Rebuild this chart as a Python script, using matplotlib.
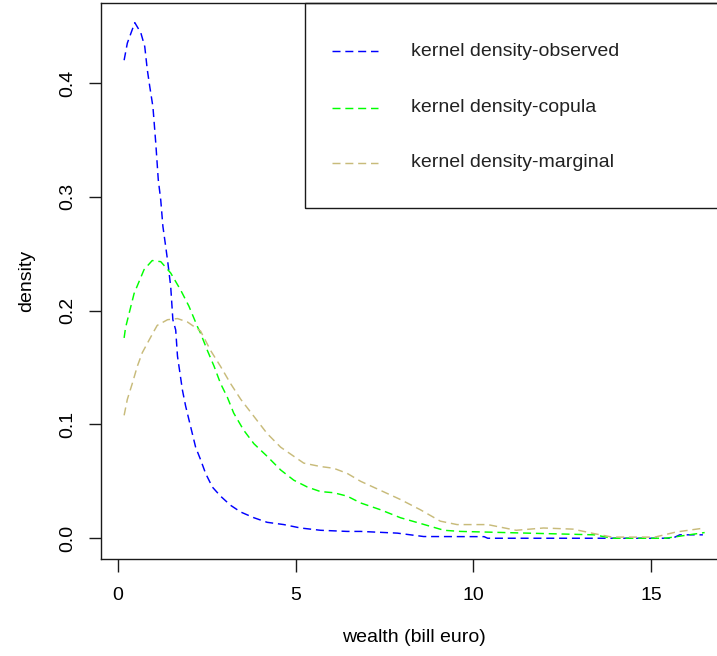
import matplotlib
matplotlib.use('Agg')
import matplotlib.pyplot as plt
from matplotlib.patches import Rectangle

plt.rcParams['font.family'] = ['Liberation Sans', 'DejaVu Sans']

# kernel density - observed
obs_x = [0.18, 0.27, 0.48, 0.65, 0.76, 0.83, 0.90, 0.99, 1.07, 1.14, 1.21, 1.27, 1.35, 1.41,
         1.49, 1.55, 1.63, 1.68, 1.82, 1.91, 2.05, 2.19, 2.33, 2.47, 2.66, 2.89, 3.17, 3.46,
         3.83, 4.2, 4.67, 5.14, 5.7, 6.45, 6.83, 7.86, 8.6, 10.3, 10.4, 13.4, 15.6, 15.8, 16.45]
obs_y = [0.420, 0.435, 0.453, 0.444, 0.432, 0.412, 0.397, 0.379, 0.347, 0.315, 0.297, 0.274,
         0.256, 0.242, 0.221, 0.192, 0.183, 0.160, 0.130, 0.116, 0.098, 0.080, 0.069, 0.057,
         0.045, 0.037, 0.029, 0.023, 0.018, 0.014, 0.012, 0.009, 0.007, 0.006, 0.006, 0.0045,
         0.0015, 0.0014, 0.0, 0.0, 0.0, 0.003, 0.003]

# kernel density - copula
cop_x = [0.18, 0.22, 0.46, 0.74, 0.97, 1.21, 1.49, 1.77, 2.0, 2.24, 2.33, 2.52, 2.71, 2.89,
         3.08, 3.26, 3.54, 3.83, 4.2, 4.58, 4.95, 5.33, 5.7, 6.07, 6.45, 6.83, 7.39, 7.95,
         8.51, 9.17, 9.63, 11.5, 13.4, 13.9, 15.4, 16.5]
cop_y = [0.176, 0.185, 0.215, 0.236, 0.244, 0.243, 0.233, 0.218, 0.204, 0.186, 0.180, 0.165,
         0.151, 0.136, 0.124, 0.110, 0.095, 0.083, 0.072, 0.060, 0.051, 0.045, 0.041, 0.040,
         0.037, 0.031, 0.025, 0.018, 0.013, 0.007, 0.006, 0.0045, 0.003, 0.0, 0.0, 0.005]

# kernel density - marginal
mar_x = [0.18, 0.27, 0.41, 0.55, 0.69, 0.88, 1.02, 1.11, 1.40, 1.68, 1.96, 2.19, 2.33, 2.61,
         2.89, 3.17, 3.46, 3.83, 4.2, 4.58, 4.95, 5.23, 5.7, 6.07, 6.45, 6.83, 7.39, 7.95,
         8.51, 9.07, 9.54, 10.4, 11.2, 11.97, 12.8, 13.4, 13.9, 15.1, 15.7, 16.5]
mar_y = [0.108, 0.122, 0.136, 0.151, 0.163, 0.174, 0.182, 0.187, 0.192, 0.193, 0.190, 0.185,
         0.182, 0.165, 0.151, 0.136, 0.122, 0.107, 0.092, 0.080, 0.072, 0.066, 0.063, 0.0615,
         0.057, 0.050, 0.042, 0.034, 0.025, 0.015, 0.012, 0.012, 0.007, 0.009, 0.008, 0.004,
         0.001, 0.001, 0.0055, 0.009]

labels = ['kernel density-observed', 'kernel density-copula', 'kernel density-marginal']
colors = ['#0000ff', '#00ff00', '#c8bb7a']
dash = (5.5, 3.3)

fig = plt.figure(figsize=(7.17, 6.56), dpi=100)
ax = fig.add_axes([101 / 717, 96.7 / 656, 625 / 717, 556 / 656])

series = [(obs_x, obs_y), (cop_x, cop_y), (mar_x, mar_y)]
for (xs, ys), c in zip(series, colors):
    ax.plot(xs, ys, color=c, lw=1.05, dashes=dash)

ax.set_xlim(-0.47, 17.1)
ax.set_ylim(-0.0185, 0.470)
ax.set_xticks([0, 5, 10, 15])
ax.set_yticks([0.0, 0.1, 0.2, 0.3, 0.4])
ax.set_yticklabels(['0.0', '0.1', '0.2', '0.3', '0.4'])
ax.tick_params(labelsize=14, length=9, width=1, color='#1a1a1a')
ax.tick_params(axis='x', pad=11)
ax.tick_params(axis='y', pad=9)
plt.setp(ax.get_yticklabels(), rotation=90, va='center')
for s in ax.spines.values():
    s.set_linewidth(1.0)
    s.set_color('#1a1a1a')

ax.set_xlabel('wealth (bill euro)', fontsize=14, labelpad=18)
ax.set_ylabel('density', fontsize=14, labelpad=17)

# legend box drawn R style
ax.add_patch(Rectangle((0.3264, 0.632), 0.6736, 0.368, transform=ax.transAxes,
                       fill=False, edgecolor='#1a1a1a', lw=1.0, clip_on=False))
rows = [0.914, 0.812, 0.713]
for lab, c, ry in zip(labels, colors, rows):
    ax.plot([0.3696, 0.4432], [ry, ry], transform=ax.transAxes, color=c, lw=1.05,
            dashes=dash, clip_on=False)
    ax.text(0.496, ry, lab, transform=ax.transAxes, fontsize=14, va='center', ha='left',
            color='#222222')

fig.savefig('out.png', dpi=100)
